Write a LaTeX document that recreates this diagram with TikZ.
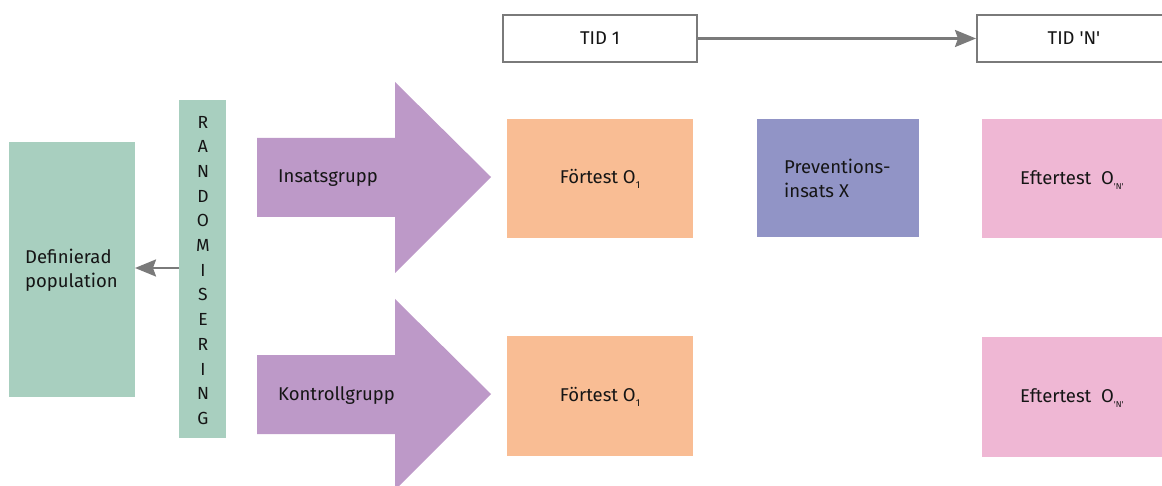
\documentclass[tikz,border=0pt]{standalone}
\usepackage{fontspec}
\setmainfont{Fira Sans}[Ligatures=TeXOff]
\usetikzlibrary{arrows.meta}
\definecolor{mint}{HTML}{A8CFBF}
\definecolor{lila}{HTML}{BD99C8}
\definecolor{peach}{HTML}{F9BD94}
\definecolor{violet}{HTML}{9194C6}
\definecolor{rosa}{HTML}{EFB7D4}
\definecolor{linegray}{HTML}{7A7A7A}
\definecolor{txt}{HTML}{151515}
\newcommand{\lowsub}[1]{\raisebox{-4.5pt}{\fontsize{10}{10}\selectfont #1}}
\newcommand{\lowsubN}[1]{\raisebox{-4.5pt}{\fontsize{8.5}{8.5}\selectfont #1}}
\tikzset{
  box/.style={draw=none, inner sep=0pt, outer sep=0pt, text=txt},
  tidbox/.style={draw=linegray, line width=2pt, fill=white, minimum width=194pt, minimum height=47pt, inner sep=0pt, text=txt},
  conn/.style={draw=linegray, line width=2.4pt, -{Stealth[length=21pt,width=17pt,inset=3pt]}},
  lab/.style={text=txt, inner sep=0pt, font=\fontsize{18.5}{24}\selectfont},
}
\begin{document}
\begin{tikzpicture}[x=1pt,y=-1pt]
\useasboundingbox (0,0) rectangle (1162,486);
% population
\fill[mint] (9,142) rectangle (135,397);
\node[box] (pop) at (72,269.5) {};
\coordinate (popE) at (135,268);
\node[lab, align=left, anchor=west] (poptxt) at (25,270) {Definierad\\population};
% randomisering bar
\fill[mint] (179,100) rectangle (226,438);
\coordinate (randW) at (179,268);
\foreach \l [count=\i from 0] in {R,A,N,D,O,M,I,S,E,R,I,N,G}
  \node[lab, font=\fontsize{17.5}{20}\selectfont] (r\i) at (203,{122+\i*24.7}) {\l};
\draw[conn] (randW) -- (popE);
% purple arrows
\fill[lila] (257,138) -- (395,138) -- (395,82) -- (491,177) -- (395,273) -- (395,217) -- (257,217) -- cycle;
\node[lab, anchor=west] (ins) at (278,178) {Insatsgrupp};
\fill[lila] (257,355) -- (395,355) -- (395,299) -- (491,394) -- (395,490) -- (395,434) -- (257,434) -- cycle;
\node[lab, anchor=west] (kon) at (278,396) {Kontrollgrupp};
% time boxes
\node[tidbox, font=\fontsize{18.5}{22}\selectfont] (t1) at (600,38.5) {TID 1};
\node[tidbox, font=\fontsize{18.5}{22}\selectfont] (tn) at (1074,38.5) {TID 'N'};
\draw[conn] (t1) -- (tn);
% Förtest
\fill[peach] (507,119) rectangle (693,238);
\node[lab] (f1) at (600,179) {Förtest O\lowsub{1}};
\fill[peach] (507,336) rectangle (693,456);
\node[lab] (f2) at (600,397) {Förtest O\lowsub{1}};
% Prevention
\fill[violet] (757,119) rectangle (919,237);
\node[lab, align=left, anchor=west] (prev) at (784,178) {Preventions-\\insats X};
% Eftertest
\fill[rosa] (982,119) rectangle (1162,238);
\node[lab, anchor=west] (e1) at (1020,180) {Eftertest\ \ O\lowsubN{'N'}};
\fill[rosa] (982,337) rectangle (1162,457);
\node[lab, anchor=west] (e2) at (1020,398) {Eftertest\ \ O\lowsubN{'N'}};
\end{tikzpicture}
\end{document}
